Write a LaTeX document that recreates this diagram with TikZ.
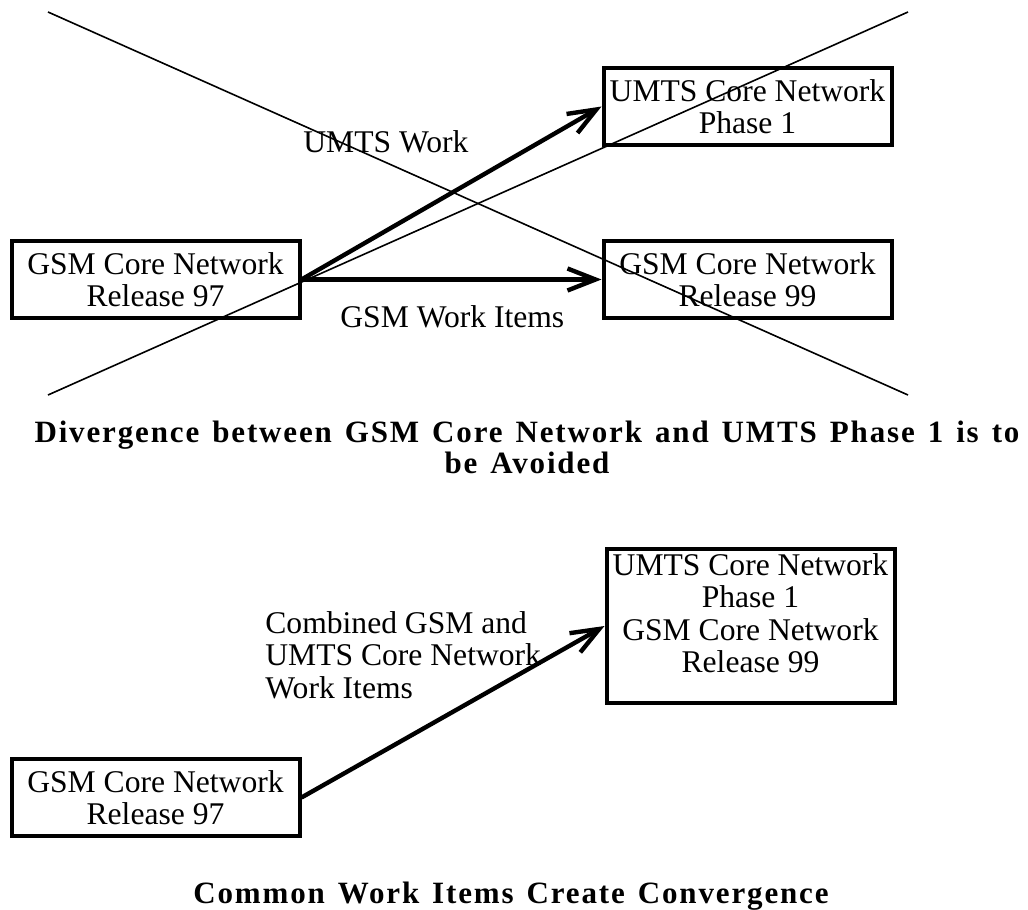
\documentclass[tikz,border=0pt]{standalone}
\usepackage{fontspec}
\setmainfont{Liberation Serif}
\newfontfamily\titlefont[LetterSpace=6, WordSpace=1.35]{Liberation Serif}
\usetikzlibrary{arrows.meta, positioning}

\begin{document}
\begin{tikzpicture}[
    x=0.5pt, y=-0.5pt,
    every node/.style={font=\fontsize{15.8}{16.2}\selectfont},
    box/.style={rectangle, draw, line width=2pt, minimum width=144pt, minimum height=38.5pt, align=center, inner sep=2pt},
    arrow/.style={-{Straight Barb[length=14pt, width=11pt]}, line width=2.2pt},
    cross/.style={line width=0.8pt},
    label/.style={inner sep=0pt},
    title/.style={font=\fontsize{15.5}{15.5}\selectfont\titlefont\bfseries, align=center, inner sep=0pt}
]
\useasboundingbox (0,0) rectangle (1028,910);

% ============ DIVERGENCE (TOP) ============
\node[box] (gsm97_top) at (155.5, 279.5) {GSM Core Network\\Release 97};
\node[box] (umts_top) at (747.5, 106.5) {UMTS Core Network\\Phase 1};
\node[box] (gsm99_top) at (747.5, 279.5) {GSM Core Network\\Release 99};

% Arrows
\draw[arrow] (gsm97_top.east) -- (umts_top.west);
\draw[arrow] (gsm97_top.east) -- (gsm99_top.west);

% Labels
\node[label, anchor=base west] (umts_work) at (303, 152) {UMTS Work};
\node[label, anchor=base west] (gsm_work) at (340, 327) {GSM Work Items};

% Crossed out
\coordinate (x_tl) at (48, 12);
\coordinate (x_br) at (908, 395);
\coordinate (x_tr) at (908, 12);
\coordinate (x_bl) at (48, 395);
\draw[cross] (x_tl) -- (x_br);
\draw[cross] (x_tr) -- (x_bl);

\node[title, anchor=north] (title_div) at (527, 421) {Divergence between GSM Core Network and UMTS Phase 1 is to\\be Avoided};

% ============ CONVERGENCE (BOTTOM) ============
\node[box] (gsm97_bot) at (155.5, 797.5) {GSM Core Network\\Release 97};
\node[box, minimum height=77pt, text depth=13pt] (combined) at (750.5, 626) {UMTS Core Network\\Phase 1\\GSM Core Network\\Release 99};

\draw[arrow] (gsm97_bot.east) -- (combined.west);

\node[label, align=left, anchor=north west] (combined_work) at (265, 611) {Combined GSM and\\UMTS Core Network\\Work Items};

\node[title, anchor=base] (title_conv) at (511, 903) {Common Work Items Create Convergence};

\end{tikzpicture}
\end{document}
